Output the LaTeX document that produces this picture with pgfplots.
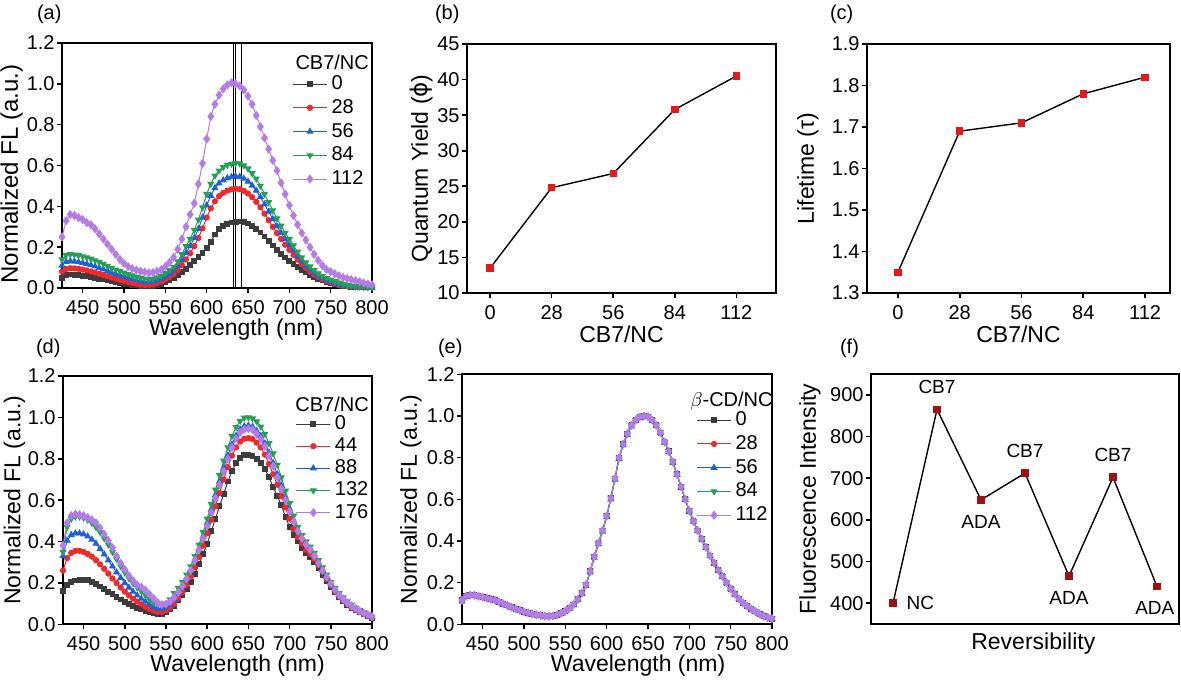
\documentclass[border=0pt]{standalone}
\usepackage{fontspec}
\setmainfont{Liberation Sans}
\newfontfamily\dejavu{DejaVu Sans}
\usepackage{pgfplots}
\usepackage{pgfplotstable}
\pgfplotsset{compat=1.18}

\definecolor{cK}{HTML}{3C3C3C}
\definecolor{cR}{HTML}{F02A2A}
\definecolor{cB}{HTML}{1F5FD8}
\definecolor{cG}{HTML}{24A055}
\definecolor{cP}{HTML}{B47CE6}
\definecolor{cMark}{HTML}{E81818}
\definecolor{cDark}{HTML}{A01010}

% panel (a): wl, CB7/NC = 0, 28, 56, 84, 112
\pgfplotstableread{
wl k r b g p
425 0.05 0.08 0.11 0.14 0.25
430 0.062 0.093 0.128 0.16 0.33
435 0.066 0.097 0.132 0.165 0.36
440 0.065 0.096 0.13 0.163 0.355
445 0.063 0.094 0.127 0.16 0.345
450 0.06 0.09 0.123 0.155 0.335
455 0.057 0.086 0.118 0.15 0.32
460 0.054 0.081 0.112 0.143 0.31
465 0.05 0.076 0.106 0.135 0.29
470 0.046 0.07 0.099 0.127 0.265
475 0.042 0.064 0.092 0.118 0.24
480 0.037 0.058 0.084 0.108 0.215
485 0.033 0.052 0.076 0.098 0.19
490 0.029 0.046 0.069 0.09 0.165
495 0.025 0.04 0.062 0.082 0.14
500 0.021 0.035 0.056 0.075 0.12
505 0.018 0.03 0.05 0.068 0.105
510 0.015 0.025 0.044 0.061 0.095
515 0.012 0.021 0.039 0.055 0.088
520 0.01 0.017 0.034 0.05 0.082
525 0.009 0.015 0.03 0.045 0.078
530 0.009 0.015 0.029 0.043 0.074
535 0.011 0.018 0.032 0.046 0.076
540 0.015 0.024 0.038 0.052 0.082
545 0.021 0.032 0.046 0.06 0.09
550 0.029 0.042 0.056 0.072 0.105
555 0.038 0.054 0.07 0.087 0.125
560 0.049 0.068 0.086 0.103 0.15
565 0.062 0.087 0.108 0.13 0.19
570 0.077 0.112 0.138 0.165 0.24
575 0.094 0.14 0.172 0.205 0.3
580 0.113 0.17 0.205 0.24 0.36
585 0.134 0.205 0.245 0.284 0.415
590 0.152 0.245 0.29 0.335 0.51
595 0.17 0.292 0.345 0.395 0.61
600 0.195 0.345 0.405 0.46 0.73
605 0.225 0.39 0.452 0.51 0.84
610 0.262 0.425 0.49 0.55 0.9
615 0.288 0.45 0.513 0.575 0.945
620 0.305 0.466 0.528 0.592 0.975
625 0.315 0.477 0.538 0.602 0.995
630 0.321 0.483 0.544 0.608 1.005
635 0.325 0.486 0.547 0.612 1.0
640 0.326 0.484 0.545 0.61 0.99
645 0.323 0.476 0.536 0.6 0.97
650 0.316 0.463 0.522 0.585 0.94
655 0.305 0.445 0.502 0.562 0.9
660 0.29 0.422 0.477 0.535 0.845
665 0.272 0.395 0.446 0.5 0.79
670 0.252 0.364 0.41 0.46 0.735
675 0.23 0.332 0.374 0.42 0.68
680 0.208 0.3 0.338 0.38 0.625
685 0.187 0.269 0.302 0.34 0.575
690 0.167 0.24 0.27 0.305 0.515
695 0.149 0.212 0.24 0.27 0.46
700 0.132 0.187 0.212 0.24 0.405
705 0.116 0.162 0.183 0.208 0.355
710 0.101 0.139 0.156 0.178 0.31
715 0.088 0.117 0.131 0.15 0.27
720 0.076 0.098 0.109 0.125 0.235
725 0.065 0.081 0.091 0.105 0.2
730 0.055 0.066 0.075 0.087 0.165
735 0.046 0.054 0.061 0.071 0.135
740 0.038 0.043 0.049 0.058 0.11
745 0.031 0.034 0.04 0.048 0.09
750 0.025 0.027 0.032 0.04 0.08
755 0.02 0.021 0.026 0.033 0.07
760 0.015 0.016 0.02 0.026 0.06
765 0.011 0.012 0.015 0.02 0.052
770 0.008 0.009 0.011 0.015 0.046
775 0.006 0.007 0.008 0.011 0.041
780 0.005 0.005 0.006 0.008 0.036
785 0.004 0.004 0.005 0.006 0.031
790 0.003 0.003 0.004 0.005 0.025
795 0.002 0.002 0.003 0.004 0.02
800 0.002 0.002 0.002 0.003 0.016
}\tabA

% panel (d): wl, CB7/NC = 0, 44, 88, 132, 176
\pgfplotstableread{
wl k r b g p
425 0.16 0.26 0.33 0.35 0.38
430 0.19 0.32 0.405 0.47 0.49
435 0.205 0.345 0.432 0.51 0.525
440 0.212 0.355 0.44 0.52 0.532
445 0.216 0.355 0.44 0.52 0.53
450 0.216 0.35 0.435 0.515 0.525
455 0.213 0.34 0.425 0.505 0.515
460 0.205 0.327 0.41 0.49 0.505
465 0.195 0.31 0.39 0.47 0.49
470 0.183 0.29 0.365 0.445 0.465
475 0.17 0.268 0.338 0.415 0.435
480 0.157 0.245 0.31 0.385 0.405
485 0.145 0.222 0.28 0.35 0.37
490 0.132 0.2 0.252 0.315 0.33
495 0.12 0.178 0.225 0.28 0.295
500 0.108 0.158 0.2 0.25 0.265
505 0.097 0.14 0.178 0.222 0.235
510 0.088 0.124 0.158 0.198 0.21
515 0.08 0.11 0.14 0.178 0.19
520 0.072 0.097 0.124 0.16 0.18
525 0.065 0.085 0.11 0.14 0.165
530 0.058 0.074 0.095 0.12 0.145
535 0.052 0.066 0.083 0.104 0.125
540 0.048 0.06 0.075 0.094 0.105
545 0.05 0.06 0.074 0.092 0.095
550 0.058 0.068 0.082 0.1 0.098
555 0.072 0.08 0.095 0.12 0.11
560 0.09 0.1 0.12 0.15 0.13
565 0.115 0.125 0.148 0.175 0.155
570 0.14 0.155 0.18 0.205 0.185
575 0.17 0.19 0.218 0.24 0.22
580 0.205 0.23 0.26 0.28 0.26
585 0.245 0.275 0.31 0.33 0.31
590 0.29 0.325 0.365 0.385 0.36
595 0.34 0.38 0.425 0.445 0.415
600 0.39 0.44 0.49 0.51 0.475
605 0.45 0.505 0.555 0.58 0.54
610 0.51 0.57 0.625 0.65 0.61
615 0.57 0.635 0.69 0.72 0.675
620 0.63 0.7 0.755 0.79 0.74
625 0.69 0.76 0.815 0.855 0.8
630 0.74 0.815 0.87 0.91 0.855
635 0.78 0.855 0.912 0.953 0.897
640 0.805 0.883 0.942 0.983 0.927
645 0.818 0.897 0.957 0.998 0.942
650 0.82 0.9 0.96 1.0 0.945
655 0.815 0.895 0.955 0.995 0.94
660 0.8 0.878 0.935 0.98 0.92
665 0.78 0.855 0.91 0.955 0.895
670 0.75 0.82 0.875 0.92 0.86
675 0.71 0.775 0.83 0.875 0.815
680 0.665 0.725 0.78 0.825 0.765
685 0.62 0.675 0.725 0.77 0.71
690 0.575 0.62 0.67 0.71 0.655
695 0.52 0.565 0.61 0.645 0.6
700 0.47 0.51 0.555 0.585 0.545
705 0.43 0.46 0.5 0.525 0.495
710 0.4 0.42 0.455 0.47 0.45
715 0.37 0.39 0.42 0.43 0.415
720 0.345 0.36 0.39 0.4 0.385
725 0.325 0.34 0.365 0.375 0.36
730 0.3 0.315 0.335 0.345 0.33
735 0.27 0.285 0.3 0.31 0.295
740 0.24 0.255 0.265 0.275 0.26
745 0.21 0.22 0.23 0.24 0.228
750 0.18 0.19 0.198 0.205 0.196
755 0.155 0.16 0.168 0.175 0.167
760 0.13 0.135 0.143 0.15 0.142
765 0.11 0.115 0.123 0.13 0.122
770 0.095 0.097 0.105 0.11 0.104
775 0.08 0.082 0.09 0.095 0.089
780 0.068 0.07 0.076 0.08 0.076
785 0.058 0.06 0.064 0.068 0.064
790 0.048 0.05 0.054 0.057 0.054
795 0.04 0.042 0.045 0.047 0.045
800 0.032 0.034 0.036 0.037 0.037
}\tabD

% panel (e): beta-CD/NC = 0, 28, 56, 84, 112 (curves coincide)
\pgfplotstableread{
wl k r b g p
425 0.115 0.113 0.11 0.114 0.115
430 0.135 0.134 0.132 0.135 0.135
435 0.14 0.14 0.139 0.141 0.14
440 0.14 0.14 0.139 0.14 0.14
445 0.135 0.136 0.135 0.136 0.135
450 0.13 0.131 0.13 0.131 0.13
455 0.125 0.126 0.125 0.126 0.125
460 0.12 0.12 0.119 0.12 0.12
465 0.115 0.114 0.113 0.115 0.115
470 0.107 0.107 0.106 0.108 0.107
475 0.098 0.098 0.097 0.099 0.098
480 0.09 0.09 0.089 0.09 0.09
485 0.082 0.082 0.081 0.082 0.082
490 0.074 0.074 0.073 0.074 0.074
495 0.067 0.067 0.066 0.067 0.067
500 0.06 0.06 0.06 0.061 0.06
505 0.055 0.055 0.054 0.055 0.055
510 0.05 0.05 0.049 0.05 0.05
515 0.046 0.046 0.045 0.046 0.046
520 0.043 0.043 0.042 0.043 0.043
525 0.04 0.04 0.039 0.04 0.04
530 0.038 0.038 0.037 0.038 0.038
535 0.04 0.04 0.039 0.04 0.04
540 0.045 0.045 0.044 0.045 0.045
545 0.053 0.053 0.052 0.053 0.053
550 0.063 0.063 0.062 0.063 0.063
555 0.077 0.077 0.076 0.078 0.077
560 0.095 0.095 0.094 0.096 0.095
565 0.12 0.12 0.118 0.121 0.12
570 0.15 0.15 0.148 0.151 0.15
575 0.19 0.19 0.187 0.191 0.19
580 0.255 0.255 0.25 0.256 0.255
585 0.325 0.325 0.32 0.326 0.325
590 0.39 0.39 0.385 0.392 0.39
595 0.45 0.45 0.445 0.452 0.45
600 0.52 0.52 0.515 0.522 0.52
605 0.605 0.605 0.6 0.607 0.605
610 0.7 0.7 0.695 0.702 0.7
615 0.8 0.8 0.795 0.8 0.8
620 0.865 0.865 0.86 0.865 0.865
625 0.915 0.915 0.91 0.915 0.915
630 0.955 0.955 0.95 0.955 0.955
635 0.98 0.98 0.977 0.98 0.98
640 0.995 0.995 0.993 0.995 0.995
645 1.0 1.0 0.998 1.0 1.0
650 0.997 0.997 0.995 0.997 0.997
655 0.98 0.98 0.978 0.98 0.98
660 0.955 0.955 0.953 0.956 0.955
665 0.92 0.92 0.918 0.921 0.92
670 0.875 0.875 0.873 0.876 0.875
675 0.83 0.83 0.828 0.831 0.83
680 0.78 0.78 0.778 0.781 0.78
685 0.72 0.72 0.718 0.721 0.72
690 0.66 0.66 0.658 0.661 0.66
695 0.6 0.6 0.598 0.601 0.6
700 0.545 0.545 0.543 0.546 0.545
705 0.495 0.495 0.493 0.496 0.495
710 0.45 0.45 0.448 0.451 0.45
715 0.41 0.41 0.408 0.411 0.41
720 0.37 0.37 0.368 0.371 0.37
725 0.33 0.33 0.328 0.331 0.33
730 0.295 0.295 0.293 0.296 0.295
735 0.26 0.26 0.258 0.261 0.26
740 0.23 0.23 0.228 0.231 0.23
745 0.2 0.2 0.198 0.201 0.2
750 0.17 0.17 0.169 0.171 0.17
755 0.145 0.145 0.144 0.146 0.145
760 0.122 0.122 0.121 0.123 0.122
765 0.103 0.103 0.102 0.104 0.103
770 0.087 0.087 0.086 0.088 0.087
775 0.073 0.073 0.072 0.074 0.073
780 0.061 0.061 0.06 0.062 0.061
785 0.05 0.05 0.049 0.051 0.05
790 0.04 0.04 0.039 0.041 0.04
795 0.033 0.033 0.032 0.034 0.033
800 0.027 0.027 0.026 0.028 0.027
}\tabE

\pgfplotsset{
  base/.style={
    scale only axis, anchor=south west,
    axis line style={line width=0.9pt},
    tick align=outside, xtick pos=bottom, ytick pos=left,
    major tick length=2.5pt,
    every tick/.style={black, line width=0.8pt},
    /pgf/number format/assume math mode=true,
    tick label style={font=\fontsize{10}{11}\selectfont},
    yticklabel style={inner xsep=1pt},
    every axis x label/.style={at={(0.5,-0.15)}, anchor=center,
      font=\fontsize{11.5}{13}\selectfont},
    every axis y label/.style={at={(-0.16,0.5)}, rotate=90, anchor=center,
      font=\fontsize{11.5}{13}\selectfont},
  },
  spec/.style={
    base, xmin=425, xmax=800, ymin=0, ymax=1.2,
    xtick={450,500,550,600,650,700,750,800},
    ytick={0,0.2,0.4,0.6,0.8,1.0,1.2},
    yticklabel style={/pgf/number format/.cd, fixed, fixed zerofill, precision=1},
    xlabel={Wavelength (nm)}, ylabel={Normalized FL (a.u.)},
    legend cell align=left,
    legend style={draw=none, fill=none, anchor=north west, inner sep=0pt,
      row sep=-0.6pt, font=\fontsize{10}{10.5}\selectfont},
  },
  sK/.style={color=cK, line width=0.5pt, mark=square*, mark size=1.2pt},
  sR/.style={color=cR, line width=0.5pt, mark=*, mark size=1.3pt},
  sB/.style={color=cB, line width=0.5pt, mark=triangle*, mark size=1.6pt},
  sG/.style={color=cG, line width=0.5pt, mark=triangle*, mark size=1.6pt, mark options={rotate=180}},
  sP/.style={color=cP, line width=0.5pt, mark=diamond*, mark size=1.9pt},
}

\begin{document}
\begin{tikzpicture}
\useasboundingbox (0,0) rectangle (590.5pt,345.5pt);

% ---------------- (a)
\begin{axis}[spec, at={(31pt,201.5pt)}, width=155pt, height=122.5pt,
  xlabel style={at={(0.562,-0.168)}},
  ylabel style={at={(-0.162,0.465)}, font=\fontsize{12}{13}\selectfont},
  legend style={at={(0.742,0.885)}}]
\addplot[sK] table[x=wl,y=k]{\tabA};
\addplot[sR] table[x=wl,y=r]{\tabA};
\addplot[sB] table[x=wl,y=b]{\tabA};
\addplot[sG] table[x=wl,y=g]{\tabA};
\addplot[sP] table[x=wl,y=p]{\tabA};
\legend{0,28,56,84,112}
\addplot[black, line width=0.6pt, forget plot] coordinates {(632,0) (632,1.2)};
\addplot[black, line width=0.6pt, forget plot] coordinates {(635,0) (635,1.2)};
\addplot[black, line width=0.7pt, forget plot] coordinates {(642,0) (642,1.2)};
\node[anchor=west, inner sep=0pt, font=\fontsize{10}{10.5}\selectfont] at (rel axis cs:0.752,0.922) {CB7/NC};
\end{axis}

% ---------------- (b)
\begin{axis}[base, at={(233.5pt,199pt)}, width=154.5pt, height=124.5pt,
  xmin=-10.5, xmax=130, ymin=10, ymax=45,
  xtick={0,28,56,84,112}, ytick={10,15,20,25,30,35,40,45},
  xlabel={CB7/NC}, ylabel={Quantum Yield ({\dejavu ϕ})},
  xlabel style={at={(0.5,-0.167)}},
  ylabel style={at={(-0.147,0.5)}}]
\addplot[black, line width=0.7pt, mark=square*, mark size=1.5pt,
  mark options={fill=cMark, draw=cMark}] coordinates {
  (0,13.5) (28,24.8) (56,26.8) (84,35.8) (112,40.5)};
\end{axis}

% ---------------- (c)
\begin{axis}[base, at={(433.5pt,199pt)}, width=151.5pt, height=124.5pt,
  xmin=-14, xmax=123.3, ymin=1.3, ymax=1.9,
  xtick={0,28,56,84,112}, ytick={1.3,1.4,1.5,1.6,1.7,1.8,1.9},
  yticklabel style={/pgf/number format/.cd, fixed, fixed zerofill, precision=1},
  xlabel={CB7/NC}, ylabel={Lifetime (τ)},
  xlabel style={at={(0.5,-0.167)}},
  ylabel style={at={(-0.195,0.5)}}]
\addplot[black, line width=0.7pt, mark=square*, mark size=1.5pt,
  mark options={fill=cMark, draw=cMark}] coordinates {
  (0,1.35) (28,1.69) (56,1.71) (84,1.78) (112,1.82)};
\end{axis}

% ---------------- (d)
\begin{axis}[spec, at={(31.5pt,33.35pt)}, width=154.5pt, height=124.15pt,
  xlabel style={at={(0.565,-0.166)}},
  ylabel style={at={(-0.157,0.5)}},
  legend style={at={(0.752,0.858)}, row sep=-1.4pt}]
\addplot[sK] table[x=wl,y=k]{\tabD};
\addplot[sR] table[x=wl,y=r]{\tabD};
\addplot[sB] table[x=wl,y=b]{\tabD};
\addplot[sG] table[x=wl,y=g]{\tabD};
\addplot[sP] table[x=wl,y=p]{\tabD};
\legend{0,44,88,132,176}
\node[anchor=west, inner sep=0pt, font=\fontsize{10}{10.5}\selectfont] at (rel axis cs:0.751,0.885) {CB7/NC};
\end{axis}

% ---------------- (e)
\begin{axis}[spec, at={(231pt,33.35pt)}, width=155pt, height=125pt,
  xlabel style={at={(0.568,-0.166)}},
  ylabel style={at={(-0.165,0.5)}},
  legend style={at={(0.755,0.868)}}]
\addplot[sK] table[x=wl,y=k]{\tabE};
\addplot[sR] table[x=wl,y=r]{\tabE};
\addplot[sB] table[x=wl,y=b]{\tabE};
\addplot[sG] table[x=wl,y=g]{\tabE};
\addplot[sP] table[x=wl,y=p]{\tabE};
\legend{0,28,56,84,112}
\node[anchor=west, inner sep=0pt, font=\fontsize{10}{10.5}\selectfont] at (rel axis cs:0.735,0.893) {$\beta$-CD/NC};
\end{axis}

% ---------------- (f)
\begin{axis}[base, at={(435.5pt,33.5pt)}, width=154pt, height=125pt,
  clip=false,
  xmin=0.5, xmax=7.5, ymin=350, ymax=950,
  xtick=\empty, ytick={400,500,600,700,800,900},
  xlabel={Reversibility}, ylabel={Fluorescence Intensity},
  xlabel style={at={(0.527,-0.08)}},
  ylabel style={at={(-0.198,0.5)}}]
\addplot[black, line width=0.7pt, mark=square*, mark size=1.6pt,
  mark options={fill=cDark, draw=cDark}] coordinates {
  (1,400) (2,865) (3,648) (4,712) (5,465) (6,702) (7,440)};
\begin{scope}[every node/.style={font=\fontsize{9.5}{10}\selectfont}]
\node[anchor=west] at (axis cs:1.15,400) {NC};
\node[anchor=south] at (axis cs:2,885) {CB7};
\node[anchor=north] at (axis cs:3,628) {ADA};
\node[anchor=south] at (axis cs:4,732) {CB7};
\node[anchor=north] at (axis cs:5,445) {ADA};
\node[anchor=south] at (axis cs:6,722) {CB7};
\node[anchor=north] at (axis cs:6.95,420) {ADA};
\end{scope}
\end{axis}

% panel letters
\begin{scope}[every node/.style={anchor=west, font=\fontsize{10}{11}\selectfont}]
\node at (15pt,338.5pt) {(a)};
\node at (214pt,338.5pt) {(b)};
\node at (411.5pt,338.5pt) {(c)};
\node at (14.5pt,171.5pt) {(d)};
\node at (215.5pt,171.5pt) {(e)};
\node at (416.5pt,171.5pt) {(f)};
\end{scope}
\end{tikzpicture}
\end{document}
